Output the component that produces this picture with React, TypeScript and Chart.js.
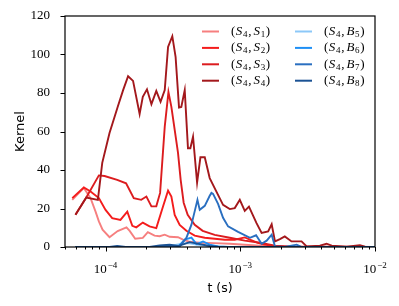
import React, { useEffect, useRef } from 'react';
import { Chart, registerables } from 'chart.js';

Chart.register(...registerables);

// ---- data (time in seconds, kernel values) ----
const tS1 = [5.66e-5, 6.9e-5, 7.74e-5, 8.43e-5, 8.92e-5, 9.5e-5, 1.07e-4, 1.23e-4, 1.43e-4, 1.51e-4, 1.66e-4, 1.89e-4, 2.06e-4, 2.31e-4, 2.52e-4, 2.75e-4, 2.99e-4, 3.45e-4, 3.76e-4, 4.21e-4, 5.0e-4, 6.46e-4, 8.36e-4, 1.08e-3, 1.4e-3, 1.81e-3, 1e-2];
const kS1 = [24.5, 30.7, 25.4, 18.4, 13.3, 9.0, 5.1, 8.3, 10.2, 8.4, 4.3, 4.7, 7.7, 5.9, 5.6, 6.4, 5.3, 5.1, 3.8, 2.7, 2.2, 2.0, 1.7, 1.2, 0.7, 0.2, 0];

const tS2 = [5.66e-5, 6.9e-5, 7.74e-5, 8.92e-5, 1.0e-4, 1.12e-4, 1.29e-4, 1.45e-4, 1.58e-4, 1.69e-4, 1.89e-4, 2.12e-4, 2.38e-4, 2.67e-4, 2.91e-4, 3.08e-4, 3.26e-4, 3.55e-4, 3.98e-4, 4.59e-4, 5.45e-4, 6.46e-4, 7.67e-4, 9.1e-4, 1.08e-3, 1.18e-3, 1.35e-3, 1.52e-3, 1.81e-3, 2.14e-3, 1e-2];
const kS2 = [25.4, 30.9, 28.8, 25.4, 19.3, 15.0, 14.1, 18.4, 11.0, 10.2, 12.7, 10.7, 9.8, 21.0, 29.3, 26.2, 16.7, 11.5, 8.4, 5.9, 4.8, 4.3, 3.8, 3.8, 5.0, 3.8, 2.2, 1.2, 0.4, 0, 0];

const tS3 = [5.98e-5, 7.19e-5, 8.92e-5, 9.83e-5, 1.22e-4, 1.42e-4, 1.62e-4, 1.84e-4, 2.01e-4, 2.19e-4, 2.38e-4, 2.54e-4, 2.75e-4, 2.93e-4, 3.08e-4, 3.26e-4, 3.45e-4, 3.61e-4, 3.8e-4, 4.07e-4, 4.59e-4, 5.26e-4, 6.46e-4, 8.36e-4, 1.08e-3, 1.4e-3, 1.81e-3, 2.33e-3, 1e-2];
const kS3 = [16.7, 25.7, 37.2, 36.9, 34.9, 33.1, 25.4, 24.5, 26.2, 21.1, 21.1, 28.1, 62.5, 80.5, 72.8, 60.8, 48.9, 34.9, 23.0, 16.7, 11.5, 8.4, 6.3, 4.8, 3.3, 2.2, 0.7, 0.3, 0];

const tS4 = [5.98e-5, 7.19e-5, 8.77e-5, 9.45e-5, 1.07e-4, 1.23e-4, 1.35e-4, 1.47e-4, 1.6e-4, 1.79e-4, 1.89e-4, 2.03e-4, 2.19e-4, 2.38e-4, 2.56e-4, 2.75e-4, 2.91e-4, 3.13e-4, 3.31e-4, 3.51e-4, 3.65e-4, 3.87e-4, 4.09e-4, 4.26e-4, 4.46e-4, 4.78e-4, 5.06e-4, 5.45e-4, 5.93e-4, 6.65e-4, 7.45e-4, 8.36e-4, 9.1e-4, 9.92e-4, 1.08e-3, 1.16e-3, 1.32e-3, 1.44e-3, 1.61e-3, 1.71e-3, 1.81e-3, 1.97e-3, 2.14e-3, 2.4e-3, 2.85e-3, 3.11e-3, 3.9e-3, 4.37e-3, 4.77e-3, 6.16e-3, 7.73e-3, 8.43e-3, 1e-2];
const kS4 = [16.7, 25.7, 24.5, 43.7, 59.2, 72.7, 81.5, 88.7, 86.3, 69.1, 78.0, 81.9, 74.2, 81.1, 75.4, 81.5, 103.9, 109.5, 98.8, 72.5, 72.8, 81.5, 51.3, 51.3, 57.3, 33.5, 46.6, 46.6, 35.8, 28.8, 21.9, 19.7, 20.2, 24.5, 18.8, 21.0, 12.4, 7.3, 8.1, 11.8, 2.9, 4.1, 5.5, 2.9, 2.9, 0.3, 0.7, 1.7, 0.7, 0.1, 0.9, 0.2, 0];

const tB5 = [5.98e-5, 2.5e-4, 3.13e-4, 3.55e-4, 4.07e-4, 5.0e-4, 6.46e-4, 8.36e-4, 1e-2];
const kB5 = [0, 0, 0.8, 1.5, 2.0, 1.0, 0.3, 0, 0];

const tB6 = [5.98e-5, 3.45e-4, 3.87e-4, 4.34e-4, 4.73e-4, 5.29e-4, 5.93e-4, 6.84e-4, 8.12e-4, 1e-2];
const kB6 = [0, 0, 3.9, 4.9, 1.5, 2.9, 1.2, 0.3, 0, 0];

const tB7 = [5.98e-5, 3.26e-4, 3.55e-4, 3.98e-4, 4.34e-4, 4.46e-4, 4.81e-4, 5.0e-4, 5.45e-4, 5.93e-4, 6.11e-4, 6.28e-4, 6.84e-4, 7.45e-4, 8.12e-4, 9.63e-4, 1.18e-3, 1.31e-3, 1.44e-3, 1.57e-3, 1.71e-3, 1.81e-3, 2.14e-3, 2.62e-3, 2.87e-3, 1e-2];
const kB7 = [0, 0, 0.3, 4.7, 11.6, 15.0, 24.5, 19.3, 21.4, 26.6, 28.1, 27.6, 22.4, 15.2, 10.7, 7.9, 4.8, 6.1, 1.7, 3.3, 6.4, 0.3, 0, 1.2, 0, 0];

const tB8 = [5.98e-5, 1.07e-4, 1.22e-4, 1.41e-4, 2.12e-4, 2.52e-4, 2.99e-4, 3.45e-4, 4.21e-4, 5.0e-4, 5.93e-4, 7.0e-4, 1e-2];
const kB8 = [0, 0, 0.6, 0, 0, 0.8, 1.2, 0.5, 2.5, 1.5, 0.5, 0, 0];

const seriesLabels = ['(S4,S1)', '(S4,S2)', '(S4,S3)', '(S4,S4)', '(S4,B5)', '(S4,B6)', '(S4,B7)', '(S4,B8)'];
const seriesColors = ['#f67f7f', '#f41c1c', '#dc1c1f', '#a3181c', '#8cc8f8', '#1e8ff5', '#2a6fc0', '#1b5294'];
const seriesT = [tS1, tS2, tS3, tS4, tB5, tB6, tB7, tB8];
const seriesK = [kS1, kS2, kS3, kS4, kB5, kB6, kB7, kB8];

const xMin = 5e-5;
const xMax = 1e-2;
const xTickValues = [5e-5, 6e-5, 7e-5, 8e-5, 9e-5, 1e-4, 2e-4, 3e-4, 4e-4, 5e-4, 6e-4, 7e-4, 8e-4, 9e-4, 1e-3, 2e-3, 3e-3, 4e-3, 5e-3, 6e-3, 7e-3, 8e-3, 9e-3, 1e-2];
const xMajorValues = [1e-4, 1e-3, 1e-2];
const xMajorBase = ['10', '10', '10'];
const xMajorExp = ['−4', '−3', '−2'];
const yMin = 0;
const yMax = 120;
const yStep = 20;

const SERIF = "'Liberation Serif', 'DejaVu Serif', serif";
const SANS = "'DejaVu Sans', sans-serif";

function majorIndex(v: number): number {
  return xMajorValues.findIndex((m) => Math.abs(Math.log10(v) - Math.log10(m)) < 1e-6);
}

const frameTicks = {
  id: 'frameTicks',
  afterDraw(chart: any) {
    const { ctx, chartArea: a, scales } = chart;
    ctx.save();
    ctx.strokeStyle = '#000';
    ctx.lineWidth = 1;
    scales.x.ticks.forEach((t: any) => {
      const px = Math.round(scales.x.getPixelForValue(t.value)) + 0.5;
      const len = majorIndex(t.value) >= 0 ? 4.5 : 2.5;
      ctx.beginPath();
      ctx.moveTo(px, a.bottom);
      ctx.lineTo(px, a.bottom + len);
      ctx.stroke();
    });
    scales.y.ticks.forEach((t: any) => {
      const py = Math.round(scales.y.getPixelForValue(t.value)) + 0.5;
      ctx.beginPath();
      ctx.moveTo(a.left, py);
      ctx.lineTo(a.left - 4.5, py);
      ctx.stroke();
    });
    ctx.lineWidth = 1.2;
    ctx.strokeRect(a.left, a.top, a.right - a.left, a.bottom - a.top);

    // major tick labels with real superscripts
    ctx.fillStyle = '#000';
    ctx.textBaseline = 'alphabetic';
    ctx.textAlign = 'left';
    xMajorValues.forEach((v, i) => {
      const px = scales.x.getPixelForValue(v);
      ctx.font = `13px ${SERIF}`;
      const wb = ctx.measureText(xMajorBase[i]).width;
      ctx.font = `9px ${SERIF}`;
      const we = ctx.measureText(xMajorExp[i]).width;
      const x0 = px - (wb + 1 + we) / 2;
      const base = a.bottom + 26;
      ctx.font = `13px ${SERIF}`;
      ctx.fillText(xMajorBase[i], x0, base);
      ctx.font = `9px ${SERIF}`;
      ctx.fillText(xMajorExp[i], x0 + wb + 1, base - 5.5);
    });
    ctx.restore();
  },
};

function drawMathLabel(ctx: CanvasRenderingContext2D, label: string, x: number, y: number) {
  const m = /^\((\w)(\d),(\w)(\d)\)$/.exec(label);
  if (!m) {
    ctx.font = `13px ${SERIF}`;
    ctx.fillText(label, x, y);
    return;
  }
  const roman = `13px ${SERIF}`;
  const ital = `italic 13px ${SERIF}`;
  const sub = `9px ${SERIF}`;
  const parts: [string, string, number, number][] = [
    [roman, '(', 0, 0.4],
    [ital, m[1], 0, 0.8],
    [sub, m[2], 3, 0.6],
    [roman, ',', 0, 2],
    [ital, m[3], 0, 0.8],
    [sub, m[4], 3, 0.6],
    [roman, ')', 0, 0],
  ];
  let cx = x;
  for (const [f, s, dy, gap] of parts) {
    ctx.font = f;
    ctx.fillText(s, cx, y + dy);
    cx += ctx.measureText(s).width + gap;
  }
}

const mplLegend = {
  id: 'mplLegend',
  afterDraw(chart: any) {
    const { ctx, chartArea: a } = chart;
    ctx.save();
    ctx.textBaseline = 'middle';
    ctx.textAlign = 'left';
    ctx.fillStyle = '#000';
    chart.data.datasets.forEach((d: any, i: number) => {
      const col = i < 4 ? 0 : 1;
      const row = i % 4;
      const lx = col === 0 ? a.right - 173 : a.right - 80;
      const y = a.top + 15.5 + row * 16.4;
      ctx.strokeStyle = d.borderColor;
      ctx.lineWidth = 2;
      ctx.beginPath();
      ctx.moveTo(lx, y);
      ctx.lineTo(lx + 17, y);
      ctx.stroke();
      ctx.fillStyle = '#000';
      drawMathLabel(ctx, d.label, lx + 29, y);
    });
    ctx.restore();
  },
};

function zeroPadding(s: any) {
  s.paddingTop = 0;
  s.paddingBottom = 0;
  s.paddingLeft = 0;
  s.paddingRight = 0;
}

export default function App() {
  const ref = useRef<HTMLCanvasElement | null>(null);

  useEffect(() => {
    if (!ref.current) return;
    const datasets = seriesLabels.map((label, i) => ({
      label,
      data: seriesT[i].map((t, j) => ({ x: t, y: seriesK[i][j] })),
      borderColor: seriesColors[i],
      backgroundColor: seriesColors[i],
      borderWidth: 1.9,
      pointRadius: 0,
      tension: 0,
      fill: false,
      order: seriesLabels.length - i,
    }));
    const chart = new Chart(ref.current, {
      type: 'line',
      data: { datasets },
      options: {
        animation: false,
        responsive: false,
        devicePixelRatio: 1,
        layout: { padding: { left: 0, right: 24, top: 16, bottom: 0 } },
        plugins: { legend: { display: false }, tooltip: { enabled: false } },
        scales: {
          x: {
            type: 'logarithmic',
            min: xMin,
            max: xMax,
            afterBuildTicks: (s: any) => {
              s.ticks = xTickValues.map((v) => ({ value: v }));
            },
            afterFit: (s: any) => {
              s.height = 59;
              zeroPadding(s);
            },
            grid: { display: false, drawTicks: false },
            border: { display: false },
            ticks: { display: false, autoSkip: false },
            title: {
              display: true,
              text: 't (s)',
              color: '#000',
              font: { family: SANS, size: 12.5 },
              padding: { top: 0, bottom: 9.5 },
            },
          },
          y: {
            type: 'linear',
            min: yMin,
            max: yMax,
            afterFit: (s: any) => {
              s.width = 65;
              zeroPadding(s);
            },
            grid: { display: false, drawTicks: false },
            border: { display: false },
            ticks: {
              stepSize: yStep,
              padding: 15,
              color: '#000',
              font: { family: SERIF, size: 13 },
            },
            title: {
              display: true,
              text: 'Kernel',
              color: '#000',
              font: { family: SANS, size: 13 },
              padding: { top: 13, bottom: 0 },
            },
          },
        },
      },
      plugins: [frameTicks, mplLegend],
    } as any);
    return () => chart.destroy();
  }, []);

  return (
    <div style={{ position: 'absolute', left: 0, top: 0, width: 399, height: 306, background: '#fff' }}>
      <canvas ref={ref} width={399} height={306} style={{ width: 399, height: 306, display: 'block' }} />
    </div>
  );
}
